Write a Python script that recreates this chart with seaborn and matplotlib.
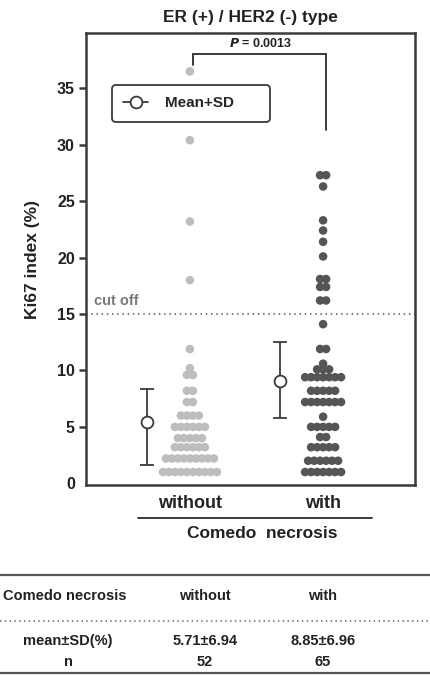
import numpy as np
import pandas as pd
import matplotlib
matplotlib.use("Agg")
import matplotlib.pyplot as plt
from matplotlib.lines import Line2D
import seaborn as sns

# values
groups = ["without", "with"]
without_ki67 = [36.5, 30.4, 23.2, 18.0, 11.9, 10.2, 9.6, 9.6, 8.2, 8.2,
                7.2, 7.2, 6.0, 6.0, 6.0, 6.0, 5.0, 5.0, 5.0, 5.0,
                5.0, 5.0, 4.0, 4.0, 4.0, 4.0, 4.0, 3.2, 3.2, 3.2,
                3.2, 3.2, 3.2, 2.2, 2.2, 2.2, 2.2, 2.2, 2.2, 2.2,
                2.2, 2.2, 1.0, 1.0, 1.0, 1.0, 1.0, 1.0, 1.0, 1.0,
                1.0, 1.0]
with_ki67 = [27.3, 27.3, 26.3, 23.3, 22.4, 21.4, 20.1, 18.1, 18.1, 17.4,
             17.4, 16.2, 16.2, 14.1, 11.9, 11.9, 10.6, 10.1, 10.1, 10.1,
             9.4, 9.4, 9.4, 9.4, 9.4, 9.4, 9.4, 8.2, 8.2, 8.2,
             8.2, 8.2, 7.2, 7.2, 7.2, 7.2, 7.2, 7.2, 7.2, 5.9,
             5.0, 5.0, 5.0, 5.0, 5.0, 4.1, 4.1, 3.2, 3.2, 3.2,
             3.2, 3.2, 2.0, 2.0, 2.0, 2.0, 2.0, 2.0, 1.0, 1.0,
             1.0, 1.0, 1.0, 1.0, 1.0]
mean_vals = [5.4, 9.1]
sd_low = [1.6, 5.8]
sd_high = [8.4, 12.5]
cutoff = 15
p_text = "= 0.0013"

table_header = ["Comedo necrosis", "without", "with"]
table_rows = [["mean\u00b1SD(%)", "5.71\u00b16.94", "8.85\u00b16.96"],
              ["n", "52", "65"]]


def row_offsets(vals, step):
    # prism style column scatter: equal values side by side, centred
    vals = np.asarray(vals)
    off = np.zeros(len(vals))
    for v in np.unique(vals):
        idx = np.where(vals == v)[0]
        off[idx] = (np.arange(len(idx)) - (len(idx) - 1) / 2) * step
    return off


step = 0.045
df = pd.DataFrame({
    "group": ["without"] * len(without_ki67) + ["with"] * len(with_ki67),
    "ki67": without_ki67 + with_ki67,
})
df["x"] = np.concatenate([0 + row_offsets(without_ki67, step),
                          1 + row_offsets(with_ki67, step)])

sns.set_style("ticks")
plt.rcParams["font.family"] = ["Liberation Sans", "DejaVu Sans"]
plt.rcParams["font.weight"] = "bold"
dark = "#3a3a3a"

fig = plt.figure(figsize=(4.3, 6.75), dpi=100)
ax = fig.add_axes([86 / 430, 1 - 485 / 675, 329 / 430, 452 / 675])

sns.scatterplot(data=df, x="x", y="ki67", hue="group", hue_order=groups,
                palette=["#bdbdbd", "#555555"], s=38, linewidth=0,
                legend=False, ax=ax, zorder=3)

# mean + SD markers, shifted left of each column
xpos = np.arange(len(groups)) - 0.32
m = np.array(mean_vals)
err = [m - np.array(sd_low), np.array(sd_high) - m]
ax.errorbar(xpos, m, yerr=err, fmt="o", color=dark, mfc="white", mec=dark,
            ms=8.5, mew=1.3, elinewidth=1.3, capsize=4.8, capthick=1.3, zorder=5)

# cut off line
ax.axhline(cutoff, color="#7a7a7a", lw=1.5, ls=(0, (0.7, 1.8)), zorder=1)
ax.text(-0.72, cutoff + 0.5, "cut off", color="#7a7a7a", fontsize=10.5,
        fontweight="bold", ha="left", va="bottom")

# P value bracket
ax.plot([0.02, 0.02, 1.02, 1.02], [37.1, 38.0, 38.0, 31.3], color=dark,
        lw=1.4, solid_joinstyle="miter")
ax.text(0.53, 38.4, r"$\bf{\it{P}}$ " + p_text, ha="center", va="bottom",
        fontsize=9, fontweight="bold", color="#222222")

# legend
h = Line2D([], [], color=dark, marker="o", mfc="white", mec=dark, ms=8.5,
           mew=1.3, lw=1.3)
leg = ax.legend([h], ["Mean+SD"], loc="upper left", mode="expand",
                bbox_to_anchor=(0.079, 0.803, 0.48, 0.082), borderaxespad=0,
                borderpad=0.75, handlelength=1.6, handletextpad=1.1,
                prop={"size": 11, "weight": "bold"}, fancybox=True,
                framealpha=1, edgecolor=dark)
leg.get_frame().set_linewidth(1.3)
leg.get_frame().set_boxstyle("round,pad=0,rounding_size=0.25")

ax.set_xticks([0, 1], groups)
ax.set_xlim(-0.78, 1.69)
ax.set_ylim(-0.15, 39.9)
ax.set_yticks([0, 5, 10, 15, 20, 25, 30, 35])
ax.yaxis.get_major_ticks()[0].tick1line.set_visible(False)
for s in ax.spines.values():
    s.set_linewidth(1.8)
    s.set_color(dark)
ax.tick_params(axis="y", length=5, width=1.8, color=dark, labelsize=11.5,
               labelcolor="#222222", pad=3)
ax.tick_params(axis="x", length=0, labelsize=13, labelcolor="#222222", pad=7)
for t in ax.get_yticklabels() + ax.get_xticklabels():
    t.set_fontweight("bold")
ax.set_xlabel("")
ax.set_ylabel("Ki67 index (%)", fontsize=12.5, fontweight="bold",
              color="#222222", labelpad=12)
ax.set_title("ER (+) / HER2 (-) type", fontsize=12.5, fontweight="bold",
             color="#222222", pad=8)

# group line and axis caption
tr = ax.get_xaxis_transform()
ax.plot([-0.39, 1.37], [-0.073, -0.073], color=dark, lw=1.4,
        transform=tr, clip_on=False)
ax.text(0.54, -0.09, "Comedo  necrosis", transform=tr, ha="center",
        va="top", fontsize=12.5, fontweight="bold", color="#222222")

# summary table underneath
tax = fig.add_axes([0, 0, 1, 1])
tax.set_xlim(0, 430)
tax.set_ylim(675, 0)
tax.axis("off")
tax.axhline(575, color="#555555", lw=1.6)
tax.axhline(621, color="#888888", lw=1.5, ls=(0, (0.7, 1.6)))
tax.axhline(673, color="#555555", lw=1.6)
col_x = [68, 205, 323]
tax.text(3, 596, table_header[0], ha="left", va="center", fontsize=10.5,
         fontweight="bold", color="#222222")
for cx, lab in zip(col_x[1:], table_header[1:]):
    tax.text(cx, 596, lab, ha="center", va="center", fontsize=10.5,
             fontweight="bold", color="#222222")
for ry, row in zip([641, 662], table_rows):
    for cx, lab in zip(col_x, row):
        tax.text(cx, ry, lab, ha="center", va="center", fontsize=10.5,
                 fontweight="bold", color="#222222")

fig.savefig("out.png", dpi=100)
